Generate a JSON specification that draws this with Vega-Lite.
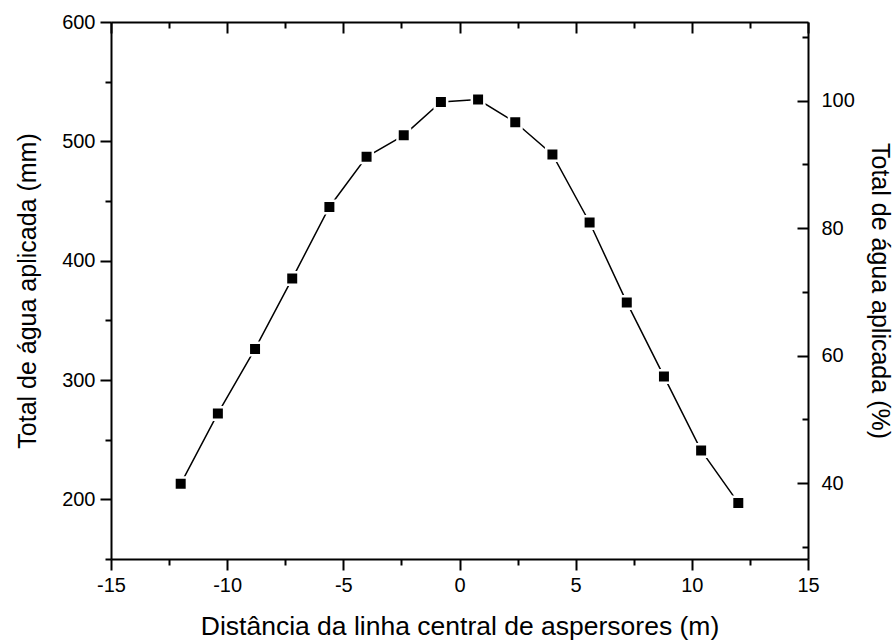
{
  "$schema": "https://vega.github.io/schema/vega-lite/v6.json",
  "autosize": {"type": "none"},
  "padding": {"left": 111, "top": 22, "right": 86, "bottom": 85},
  "width": 697,
  "height": 537,
  "background": "white",
  "config": {
    "view": {"stroke": null},
    "axis": {
      "grid": false,
      "domainColor": "black",
      "domainWidth": 2,
      "tickColor": "black",
      "tickWidth": 2,
      "labelColor": "black",
      "labelFont": "Liberation Sans",
      "labelFontSize": 20,
      "titleColor": "black",
      "titleFont": "Liberation Sans",
      "titleFontWeight": "normal",
      "titleFontSize": 25,
      "labelFlush": false
    }
  },
  "data": {
    "values": [
      {"dist": -12.0, "mm": 213, "pct": 39.9},
      {"dist": -10.4, "mm": 272, "pct": 50.9},
      {"dist": -8.8, "mm": 326, "pct": 61.0},
      {"dist": -7.2, "mm": 385, "pct": 72.1},
      {"dist": -5.6, "mm": 445, "pct": 83.3},
      {"dist": -4.0, "mm": 487, "pct": 91.2},
      {"dist": -2.4, "mm": 505, "pct": 94.6},
      {"dist": -0.8, "mm": 533, "pct": 99.8},
      {"dist": 0.8, "mm": 535, "pct": 100.2},
      {"dist": 2.4, "mm": 516, "pct": 96.6},
      {"dist": 4.0, "mm": 489, "pct": 91.6},
      {"dist": 5.6, "mm": 432, "pct": 80.9},
      {"dist": 7.2, "mm": 365, "pct": 68.4},
      {"dist": 8.8, "mm": 303, "pct": 56.7},
      {"dist": 10.4, "mm": 241, "pct": 45.1},
      {"dist": 12.0, "mm": 197, "pct": 36.9}
    ]
  },
  "resolve": {
    "scale": {"x": "independent", "y": "independent"},
    "axis": {"x": "independent", "y": "independent"}
  },
  "layer": [
    {
      "encoding": {
        "x": {
          "field": "dist", "type": "quantitative",
          "scale": {"domain": [-15, 15], "nice": false, "zero": false},
          "axis": {
            "orient": "bottom",
            "values": [-15, -10, -5, 0, 5, 10, 15],
            "labelExpr": "replace(datum.label, '−', '-')",
            "tickSize": 11,
            "labelPadding": 5,
            "title": "Distância da linha central de aspersores (m)",
            "titleFontSize": 26.5,
            "titlePadding": 18
          }
        },
        "y": {
          "field": "mm", "type": "quantitative",
          "scale": {"domain": [150, 600], "nice": false, "zero": false},
          "axis": {
            "orient": "left",
            "values": [200, 300, 400, 500, 600],
            "tickSize": 11,
            "labelPadding": 5,
            "title": "Total de água aplicada (mm)",
            "titlePadding": 21
          }
        }
      },
      "layer": [
        {"mark": {"type": "line", "color": "black", "strokeWidth": 1.5}},
        {"mark": {"type": "point", "shape": "square", "filled": true, "size": 156, "fill": "black", "stroke": "white", "strokeWidth": 2.5, "opacity": 1}}
      ]
    },
    {
      "mark": {"type": "point", "opacity": 0},
      "encoding": {
        "x": {
          "field": "dist", "type": "quantitative",
          "scale": {"domain": [-15, 15], "nice": false, "zero": false},
          "axis": {"orient": "bottom", "values": [-12.5, -7.5, -2.5, 2.5, 7.5, 12.5], "tickSize": 6, "labels": false, "domain": false, "title": null}
        },
        "y": {
          "field": "mm", "type": "quantitative",
          "scale": {"domain": [150, 600], "nice": false, "zero": false},
          "axis": {"orient": "left", "values": [150, 250, 350, 450, 550], "tickSize": 6, "labels": false, "domain": false, "title": null}
        }
      }
    },
    {
      "mark": {"type": "point", "opacity": 0},
      "encoding": {
        "x": {
          "field": "dist", "type": "quantitative",
          "scale": {"domain": [-15, 15], "nice": false, "zero": false},
          "axis": {"orient": "top", "values": [-15, -10, -5, 0, 5, 10, 15], "tickSize": -11, "labels": false, "title": null}
        },
        "y": {
          "field": "pct", "type": "quantitative",
          "scale": {"domain": [28.09, 112.36], "nice": false, "zero": false},
          "axis": {
            "orient": "right",
            "values": [40, 60, 80, 100],
            "tickSize": -11,
            "labelPadding": 24,
            "title": "Total de água aplicada (%)",
            "titlePadding": 12
          }
        }
      }
    },
    {
      "mark": {"type": "point", "opacity": 0},
      "encoding": {
        "x": {
          "field": "dist", "type": "quantitative",
          "scale": {"domain": [-15, 15], "nice": false, "zero": false},
          "axis": {"orient": "top", "values": [-12.5, -7.5, -2.5, 2.5, 7.5, 12.5], "tickSize": -6, "labels": false, "domain": false, "title": null}
        },
        "y": {
          "field": "pct", "type": "quantitative",
          "scale": {"domain": [28.09, 112.36], "nice": false, "zero": false},
          "axis": {"orient": "right", "values": [30, 50, 70, 90, 110], "tickSize": -6, "labels": false, "domain": false, "title": null}
        }
      }
    }
  ]
}
